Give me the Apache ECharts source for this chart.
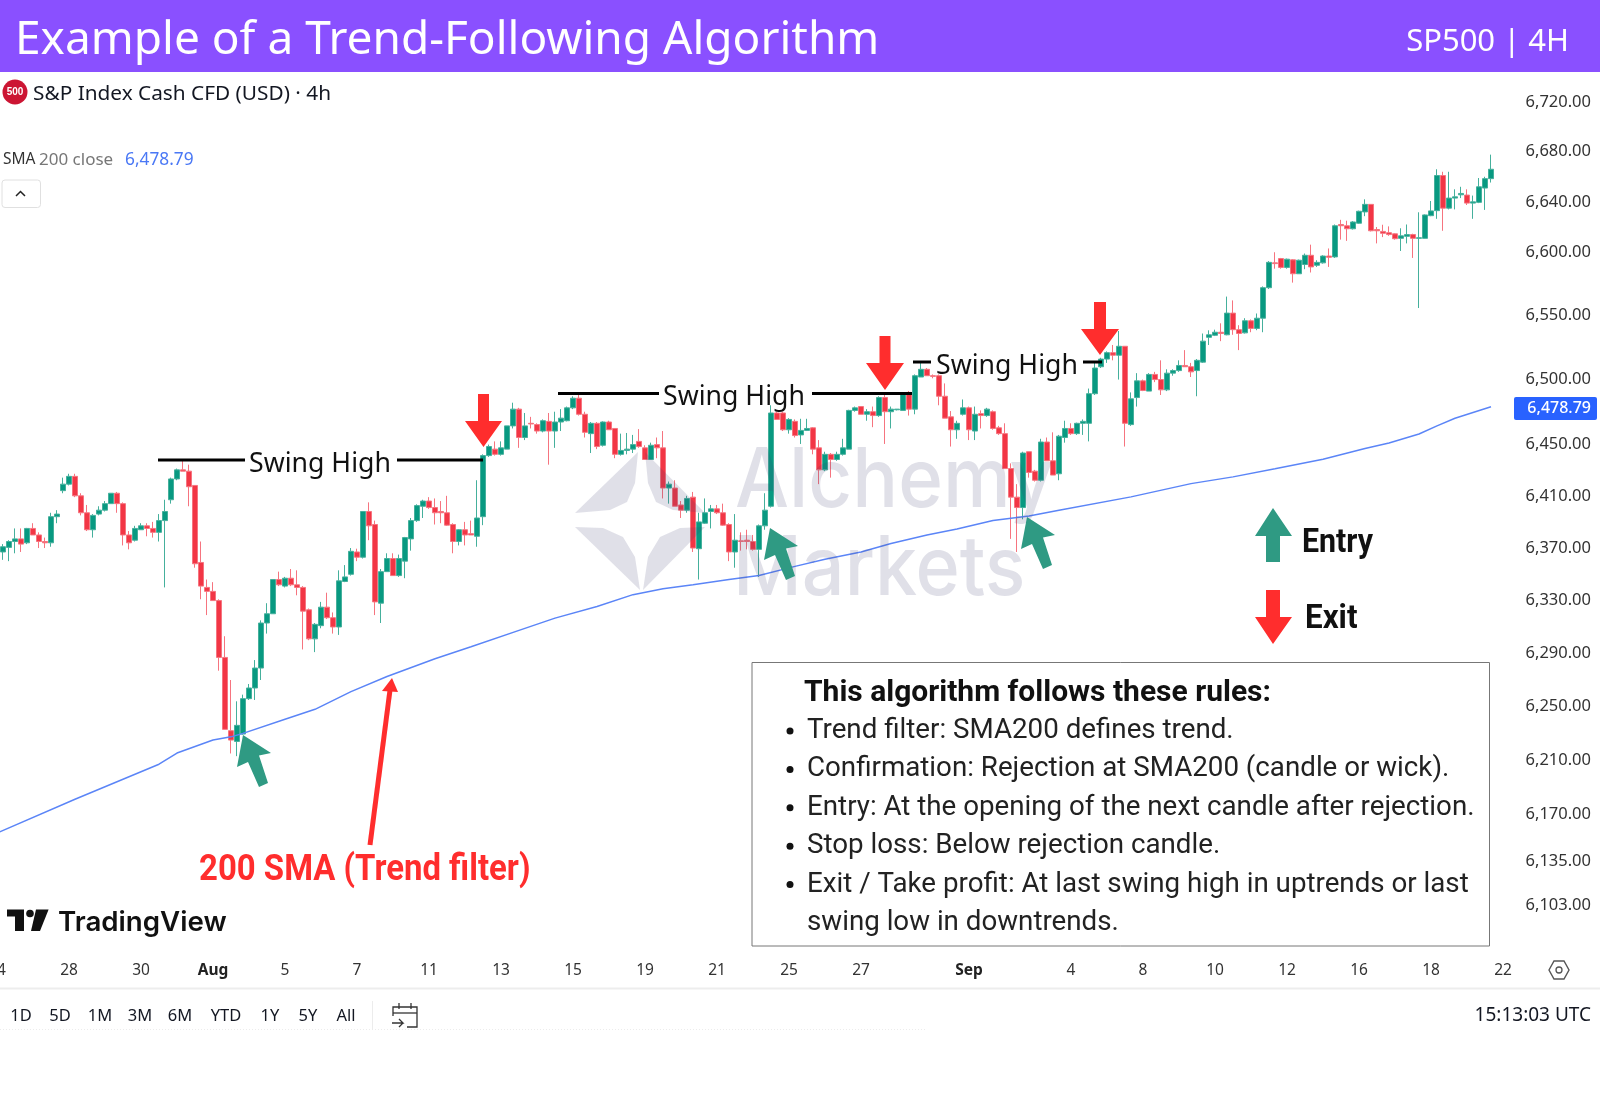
<!DOCTYPE html>
<html>
<head>
<meta charset="utf-8">
<style>
  html, body { margin: 0; padding: 0; background: #fff; }
  #chart { width: 1600px; height: 1095px; }
</style>
<script src="https://cdn.jsdelivr.net/npm/echarts@6/dist/echarts.min.js"></script>
</head>
<body>
<div id="chart"></div>
<script>
// 4h candles, oldest first
const opens = [
  6367,6370.5,6375,6377,6374,6385,6380,6375,6374,6394,
  6414,6419,6425,6410,6397,6384,6396,6399,6404,6412,
  6404,6380,6376,6384,6387,6385,6382,6391,6407,6423,
  6430,6429,6418,6359,6340,6337,6330,6287,6232,6224,
  6229.5,6256,6264,6279,6313,6320,6346,6341,6347,6342,
  6340,6323,6301,6311,6325,6317,6310,6344.5,6350,6367,
  6363,6398,6388,6328,6352,6362,6349,6360,6377,6391,
  6402,6406,6401,6398,6397,6388,6375,6384,6381,6379,
  6394,6441,6446,6442,6446,6464,6477,6455,6466,6465,
  6460,6467.5,6460,6467,6468,6478,6485.5,6473,6458,6466,
  6449,6467,6462,6442,6445,6446,6452,6447,6438,6449.5,
  6447,6416,6416,6403,6399,6409,6369.5,6389,6398,6400,
  6397,6388,6367,6375.5,6376,6375,6369,6387,6402,6474,
  6474,6461,6467.5,6457,6460.5,6462.5,6447,6430,6442,6438,
  6442,6446,6476,6479,6473,6475,6472,6486,6475,6476.5,
  6476,6490,6477,6502,6508,6503,6503,6487,6471,6461,
  6473,6478,6460,6473.5,6472,6475,6462.5,6458,6431,6409,
  6401,6444,6429,6422,6451.5,6437,6427,6455,6462,6458,
  6466,6466,6489,6510,6516,6521,6519,6526,6465,6486,
  6499,6491,6504,6500,6492,6505,6507,6511,6510,6507,
  6513.6,6533,6534.6,6537,6535,6552,6539,6536.5,6546,6540,
  6548,6572,6591.6,6595,6588,6594,6583,6590.3,6597.6,6589.7,
  6591.6,6597,6596.3,6622,6621,6618.6,6623,6632,6638,6618,
  6616.5,6615.5,6614.6,6611,6612.6,6614,6611,6611,6629,6633,
  6661,6635,6643,6645.6,6645.4,6639,6639.6,6651,6658.5
];
const closes = [
  6371,6375,6377,6373,6385,6380,6375,6374,6394,6396,
  6419,6425,6410,6397,6384,6395,6399,6404,6412,6404,
  6380,6374,6385,6387,6385,6382,6391,6398,6423,6430,
  6429,6417,6358,6341,6337,6330,6287,6233,6225,6236,
  6256,6264,6279,6313,6320,6346,6342,6347,6342,6340,
  6322,6301,6312,6325,6317,6310,6345,6348,6367.5,6363,
  6398,6387,6329,6352,6362,6349,6362,6378,6391,6402.5,
  6406,6401,6397,6397,6387.5,6375,6384,6380,6380,6393,
  6441,6448,6442,6447,6464,6477,6455,6464,6465.5,6460,
  6468,6460,6467,6470,6478,6485.5,6473,6459,6466,6448,
  6467,6461,6442,6445,6446,6449.5,6448,6438,6449,6447,
  6416,6419,6402,6399,6408,6370,6390,6397,6400,6397,
  6387.5,6367,6376,6375,6375,6369,6387,6399,6474,6469,
  6461,6469,6456.5,6460.5,6462,6446,6430,6442,6438,6442,
  6447,6476,6478,6473,6475,6472,6486,6475,6477,6477,
  6489.5,6477,6503,6508,6503,6502.5,6487,6470,6461,6466,
  6478,6461,6473,6472,6477,6462,6458,6431,6409,6401,
  6443,6428,6422,6451.5,6437,6426,6456,6462,6458,6466,
  6467.5,6489,6509,6516,6521,6519,6526,6466,6485,6499,
  6491.5,6504,6500,6492,6505,6507,6511,6510,6506,6515,
  6530,6535,6537,6536,6552,6539,6536,6546,6540,6548,
  6572,6592,6591,6588,6594.5,6583,6593.7,6597.6,6588.4,6592,
  6597,6596,6621,6621,6618.6,6624,6632.5,6638,6617,6617,
  6615,6614,6610.7,6613,6614,6611,6611.5,6629.6,6632.8,6661,
  6635,6643,6644,6646.7,6639,6640,6652,6658.5,6666
];
const lows = [
  6361,6360,6366,6367,6373,6380,6370,6370,6371,6389,
  6412,6418,6409,6395,6383,6378,6395,6398,6404,6397,
  6372,6369,6375,6384,6379,6378,6375,6340,6404,6422,
  6429,6402,6355,6331,6319,6330,6277,6233,6215,6213,
  6229,6255,6255,6270,6305,6320,6341,6340,6341,6334,
  6293,6300,6291,6309,6316,6305,6304,6344,6349,6360,
  6362,6376,6319,6313,6352,6349,6348,6347,6368,6390,
  6393,6400,6388,6389,6387,6366,6372,6372,6380,6371,
  6387.5,6440,6441,6441,6446,6462,6447,6453,6462,6458,
  6459,6434,6447,6460,6467.5,6477,6472,6455,6443,6446,
  6448,6461,6439,6441,6442,6443,6447,6438,6438,6439,
  6408,6404,6402,6393,6397,6367,6346,6388.5,6385,6396,
  6387,6360,6355,6368,6369,6368,6348,6384,6401,6469,
  6460,6458,6455,6450,6460,6442,6419,6429,6424,6437,
  6441,6446,6475,6473,6468,6463,6471,6450,6462,6476,
  6476,6472,6473,6502,6503,6501,6480,6470,6448,6454,
  6472,6453,6453,6462,6471,6461,6457,6431,6377,6367,
  6392,6424,6421,6421,6437,6426,6422,6451,6457,6457,
  6457,6452,6488,6509,6513,6515,6500,6448,6464,6479,
  6491,6491,6498,6488,6491,6503,6506,6510,6502,6487,
  6513,6527,6534,6530,6534.6,6535,6523,6536,6537,6538.6,
  6537,6571,6587,6587,6587,6576,6583,6586.6,6584,6588.4,
  6591,6588.4,6595.5,6610,6609,6618,6622.6,6628.6,6616.5,6607,
  6612,6613,6610,6601,6607,6595.5,6556,6610.8,6628.6,6626.5,
  6617,6634,6634,6643,6637.5,6626.5,6639,6633.6,6655.4
];
const highs = [
  6373,6376,6385,6385,6385.4,6389,6382,6378,6397,6399,
  6424,6427,6427,6412,6403,6396,6402,6406,6412,6413,
  6405,6383,6387,6389,6389,6390,6396,6407,6424,6431,
  6437,6434,6418,6375,6346,6344,6331,6303,6270,6254,
  6259,6267,6285,6315,6328,6346,6352,6348,6354,6353,
  6341,6324,6313,6329,6336,6321,6353,6357,6370,6369.5,
  6398,6405,6391,6354,6366,6366,6365,6378.5,6393,6403.5,
  6407,6409,6408,6406,6410,6389,6384.5,6390,6391,6422,
  6442,6449.5,6452,6452,6464,6482,6478,6474,6471,6466,
  6469,6474,6475,6477,6479,6487,6488,6475,6467,6467,
  6467.5,6468,6462,6458,6458.5,6457,6461.5,6449,6451,6455,
  6460,6421,6422,6406,6410,6413,6397,6408,6403,6403,
  6404,6389,6396,6382,6384,6380,6388,6412,6480,6475,
  6475,6470,6469,6469.5,6469.5,6463,6453,6444,6443,6444,
  6454,6476.5,6479,6479,6477,6479,6487,6488,6479,6477,
  6490,6491,6504,6513,6509,6504,6504,6497,6475.5,6468,
  6484.5,6479,6479,6476,6478,6476,6464,6466,6435,6419,
  6444,6444,6430,6454,6455,6459,6457,6468,6466,6466.5,
  6469,6493,6513.5,6517,6522,6527,6538,6526,6490,6505,
  6500,6505,6506,6515,6508,6508,6515,6523,6513,6516,
  6536,6538.5,6539,6544,6565,6562,6542.5,6548,6547,6551.7,
  6573,6593,6600,6595.5,6595,6594.5,6594.2,6599,6606,6593.7,
  6597.6,6603,6622,6625.7,6625,6624.7,6633,6642,6638,6620,
  6621.8,6620.5,6615,6619,6622,6614.7,6631.7,6630,6640.7,6666,
  6664,6664,6650,6652,6650,6645,6659,6660,6677.7
];

// SMA 200 readings: candle slot and value
const smaSlots = [0,13,27,30,36,39,41,48,53,59,65,73,79,87,93,100,106,111,116,122,127,133,138,144,149,155,160,166,172,177,189,199,206,213,221,228,232,237,240,243,249];
const smaValues = [6156,6181,6207,6215.3,6225,6227.4,6230,6240.5,6248,6261.3,6272.6,6286,6295,6307.4,6316.7,6325.5,6334.5,6339,6342,6346,6349,6356,6361.5,6367,6373.5,6380,6384.6,6391,6394.6,6399,6409.2,6419.4,6424.6,6430.8,6438.2,6446.5,6450.8,6457.7,6464,6469.9,6478.79];

const priceTicks = [6720,6680,6640,6600,6550,6500,6450,6410,6370,6330,6290,6250,6210,6170,6135,6103];
const dateSlots = [0,12,24,36,48,60,72,84,96,108,120,132,144,162,179,191,203,215,227,239,251];
const dateTicks = ['24','28','30','Aug','5','7','11','13','15','19','21','25','27','Sep','4','8','10','12','16','18','22'];
const rangeButtons = ['1D','5D','1M','3M','6M','YTD','1Y','5Y','All'];
const rangeButtonX = [21,60,100,140,180,226,270,308,346];
const rules = [
  'Trend filter: SMA200 defines trend.',
  'Confirmation: Rejection at SMA200 (candle or wick).',
  'Entry: At the opening of the next candle after rejection.',
  'Stop loss: Below rejection candle.',
  'Exit / Take profit: At last swing high in uptrends or last',
  'swing low in downtrends.'
];

const SLOT_COUNT = 253;
const SANS = '"Noto Sans", sans-serif';
const ROBOTO = 'Roboto, sans-serif';
const RED = '#ff2d2d';
const TEAL = '#2f9a83';
const WATERMARK = 'rgba(60,60,110,0.16)';

const categories = Array.from({ length: SLOT_COUNT }, (_, i) => String(i));
const labelBySlot = {};
dateSlots.forEach((s, i) => { labelBySlot[s] = dateTicks[i]; });

function label(x, y, text, fill, font, extra) {
  const { align = 'left', scaleX = 1, z = 60 } = extra || {};
  return { type: 'text', x, y, scaleX, z, silent: true,
    style: { text, fill, font, align, verticalAlign: 'middle' } };
}
function poly(points, fill, z) {
  return { type: 'polygon', z: z || 55, silent: true, shape: { points }, style: { fill } };
}
function seg(x1, y1, x2, y2, stroke, lineWidth, z, lineDash) {
  return { type: 'line', z: z || 55, silent: true, shape: { x1, y1, x2, y2 },
    style: { stroke, lineWidth, lineDash } };
}
function downArrow(cx, top, neck, tip, shaft, head) {
  return poly([[cx - shaft, top], [cx + shaft, top], [cx + shaft, neck], [cx + head, neck], [cx, tip],
    [cx - head, neck], [cx - shaft, neck]], RED);
}
function entryArrow(dx, dy) {
  return poly([[243, 735], [271, 753], [259, 755.5], [268, 783], [259, 787], [248, 762], [237, 767]]
    .map(([x, y]) => [x + dx, y + dy]), TEAL);
}
function swingHigh(x1, x2, textX, x3, x4, y) {
  return [
    seg(x1, y, x2, y, '#000', 3),
    seg(x3, y, x4, y, '#000', 3),
    label(textX, y + 4, 'Swing High', '#111', '26.7px ' + SANS)
  ];
}

const overlays = [
  // header band
  { type: 'rect', z: 50, silent: true, shape: { x: 0, y: 0, width: 1600, height: 72 }, style: { fill: '#8a50ff' } },
  label(15, 41, 'Example of a Trend-Following Algorithm', '#fff', '46px ' + SANS),
  label(1569, 42, 'SP500 | 4H', '#fff', '31px ' + SANS, { align: 'right' }),

  // symbol legend
  { type: 'circle', z: 60, silent: true, shape: { cx: 15, cy: 92, r: 12.5 }, style: { fill: '#cc1533' } },
  label(15, 92, '500', '#fff', 'bold 10px Arial, ' + SANS, { align: 'center' }),
  label(33, 94, 'S&P Index Cash CFD (USD) · 4h', '#131722', '20.8px ' + SANS),
  label(3, 160, 'SMA', '#333', '15.5px ' + SANS),
  label(39, 160, '200 close', '#777', '17px ' + SANS),
  label(125, 160, '6,478.79', '#4a78f5', '17.3px ' + SANS),
  { type: 'rect', z: 60, silent: true, shape: { x: 2, y: 180, width: 38.5, height: 27.5, r: 3 },
    style: { fill: '#fff', stroke: '#e0e0e0', lineWidth: 1 } },
  { type: 'polyline', z: 61, silent: true, shape: { points: [[16, 196], [20.5, 191.5], [25, 196]] },
    style: { stroke: '#222', lineWidth: 1.5, fill: null } },

  // watermark, sits over the candles
  poly([[575, 513], [638, 452], [635, 483], [627, 502], [610, 510]], WATERMARK, 20),
  poly([[645, 452], [705, 513], [673, 510], [656, 502], [648, 483]], WATERMARK, 20),
  poly([[575, 527], [640, 590], [635, 557], [623, 537], [603, 528]], WATERMARK, 20),
  poly([[643, 590], [705, 527], [680, 528], [660, 537], [648, 557]], WATERMARK, 20),
  label(735, 482, 'Alchemy', WATERMARK, '500 82px Inter, sans-serif', { z: 20, scaleX: 0.93 }),
  label(733, 570, 'Markets', WATERMARK, '500 82px Inter, sans-serif', { z: 20, scaleX: 0.92 }),

  // swing highs and signal arrows
  ...swingHigh(158, 245, 249, 397, 483, 460),
  ...swingHigh(558, 659, 663, 812, 912, 393.5),
  ...swingHigh(913, 931, 936, 1083, 1102, 362),
  downArrow(483.5, 394, 421, 447, 5.5, 18.5),
  downArrow(885, 336, 363, 390, 5.5, 19),
  downArrow(1100, 302, 329, 355, 6, 19),
  entryArrow(0, 0),
  entryArrow(527, -207),
  entryArrow(784, -218),

  // SMA call-out
  seg(370, 845, 390, 690, RED, 5),
  poly([[392, 678], [382, 691], [398, 692]], RED),
  label(199, 871, '200 SMA (Trend filter)', RED, 'bold 37px ' + ROBOTO, { scaleX: 0.89 }),

  // key
  poly([[1273, 508], [1292, 536], [1280, 536], [1280, 562], [1266, 562], [1266, 536], [1255, 536]], TEAL),
  label(1302, 544, 'Entry', '#111', 'bold 33px ' + ROBOTO, { scaleX: 0.92 }),
  poly([[1266, 590], [1280, 590], [1280, 617], [1292, 617], [1273, 644], [1255, 617], [1266, 617]], RED),
  label(1305, 620, 'Exit', '#111', 'bold 33px ' + ROBOTO, { scaleX: 0.95 }),

  // rules box
  { type: 'rect', z: 58, silent: true, shape: { x: 752, y: 662.5, width: 737.5, height: 283.5 },
    style: { fill: '#fff', stroke: '#777', lineWidth: 1 } },
  label(804, 693, 'This algorithm follows these rules:', '#111', 'bold 30px ' + ROBOTO),
  ...rules.map((r, i) => label(807, 731 + i * 38.4, r, '#222', '28px ' + ROBOTO, { scaleX: 0.99 })),
  ...[0, 1, 2, 3, 4].map((i) => ({ type: 'circle', z: 60, silent: true,
    shape: { cx: 790, cy: 731 + i * 38.4, r: 3.5 }, style: { fill: '#111' } })),

  // current SMA price tag
  { type: 'rect', z: 60, silent: true, shape: { x: 1514, y: 397, width: 83, height: 23, r: 2 }, style: { fill: '#2962ff' } },
  label(1591, 408.5, '6,478.79', '#fff', '500 16px ' + SANS, { align: 'right' }),

  // TradingView mark
  poly([[7, 909.5], [24, 909.5], [24, 931], [15, 931], [15, 916.5], [7, 916.5]], '#111'),
  { type: 'circle', z: 60, silent: true, shape: { cx: 30, cy: 913.5, r: 3.8 }, style: { fill: '#111' } },
  poly([[36, 909.5], [48.6, 909.5], [40, 931], [31, 931]], '#111'),
  label(58, 923, 'TradingView', '#111', '600 27.7px Inter, sans-serif'),

  // bottom toolbar
  seg(0, 988.5, 1600, 988.5, '#ededed', 2, 40),
  seg(0, 1029.5, 925, 1029.5, '#ececec', 1, 40, [1, 2]),
  ...rangeButtons.map((t, i) => label(rangeButtonX[i], 1016, t, '#131722', '16.5px ' + SANS, { align: 'center' })),
  seg(372.5, 1001, 372.5, 1029, '#ececec', 1, 40),
  { type: 'polyline', z: 60, silent: true, shape: { points: [[393, 1016], [393, 1007], [417, 1007], [417, 1027], [407, 1027]] },
    style: { stroke: '#333', lineWidth: 1.3, fill: null } },
  seg(393, 1013, 417, 1013, '#333', 1.3, 60),
  seg(399, 1003, 399, 1009, '#333', 1.3, 60),
  seg(411, 1003, 411, 1009, '#333', 1.3, 60),
  { type: 'polyline', z: 60, silent: true, shape: { points: [[392, 1023], [403, 1023], [399, 1019], [403, 1023], [399, 1027]] },
    style: { stroke: '#333', lineWidth: 1.3, fill: null } },
  label(1591, 1016, '15:13:03 UTC', '#131722', '19px ' + SANS, { align: 'right' }),

  // settings hexagon
  { type: 'polygon', z: 60, silent: true, shape: { points: [[1549, 970], [1554, 961], [1564, 961], [1569, 970], [1564, 979], [1554, 979]] },
    style: { fill: null, stroke: '#555', lineWidth: 1.4 } },
  { type: 'circle', z: 60, silent: true, shape: { cx: 1559, cy: 970, r: 3 }, style: { fill: null, stroke: '#555', lineWidth: 1.3 } }
];

const chart = echarts.init(document.getElementById('chart'), null, { renderer: 'canvas' });
chart.setOption({
  animation: false,
  backgroundColor: '#fff',
  grid: { left: -6, top: 72, width: SLOT_COUNT * 6, height: 880, outerBoundsMode: 'none' },
  xAxis: {
    type: 'category',
    data: categories,
    axisLine: { show: false },
    axisTick: { show: false },
    splitLine: { show: false },
    axisLabel: {
      interval: 0,
      margin: 11,
      color: '#333',
      fontFamily: 'Noto Sans',
      fontSize: 15.5,
      formatter: (v) => {
        const t = labelBySlot[v];
        if (!t) return '';
        return t === 'Aug' || t === 'Sep' ? '{b|' + t + '}' : t;
      },
      rich: { b: { fontWeight: 'bold', fontFamily: 'Noto Sans', fontSize: 15.5, color: '#222' } }
    }
  },
  yAxis: {
    type: 'log',
    logBase: 10,
    min: 6068.8,
    max: 6744.2,
    position: 'right',
    axisLine: { show: false },
    axisTick: { show: false },
    splitLine: { show: false },
    minorTick: { show: false },
    axisLabel: {
      customValues: priceTicks,
      margin: 79,
      align: 'right',
      color: '#333',
      fontFamily: 'Noto Sans',
      fontSize: 16.5,
      padding: [8, 0, 0, 0],
      formatter: (v) => Number(v).toLocaleString('en-US', { minimumFractionDigits: 2, maximumFractionDigits: 2 })
    }
  },
  series: [
    {
      type: 'candlestick',
      barWidth: 5,
      z: 5,
      encode: { x: 0, y: [1, 2, 3, 4] },
      data: opens.map((o, i) => [i + 1, o, closes[i], lows[i], highs[i]]),
      itemStyle: {
        color: '#089981',
        color0: '#f23645',
        borderColor: '#45b09c',
        borderColor0: '#f6747f',
        borderWidth: 1
      }
    },
    {
      type: 'line',
      z: 6,
      showSymbol: false,
      symbol: 'none',
      data: smaSlots.map((s, i) => [s, smaValues[i]]),
      lineStyle: { color: '#5b85f7', width: 1.5 }
    }
  ],
  graphic: { elements: overlays }
});
</script>
</body>
</html>
